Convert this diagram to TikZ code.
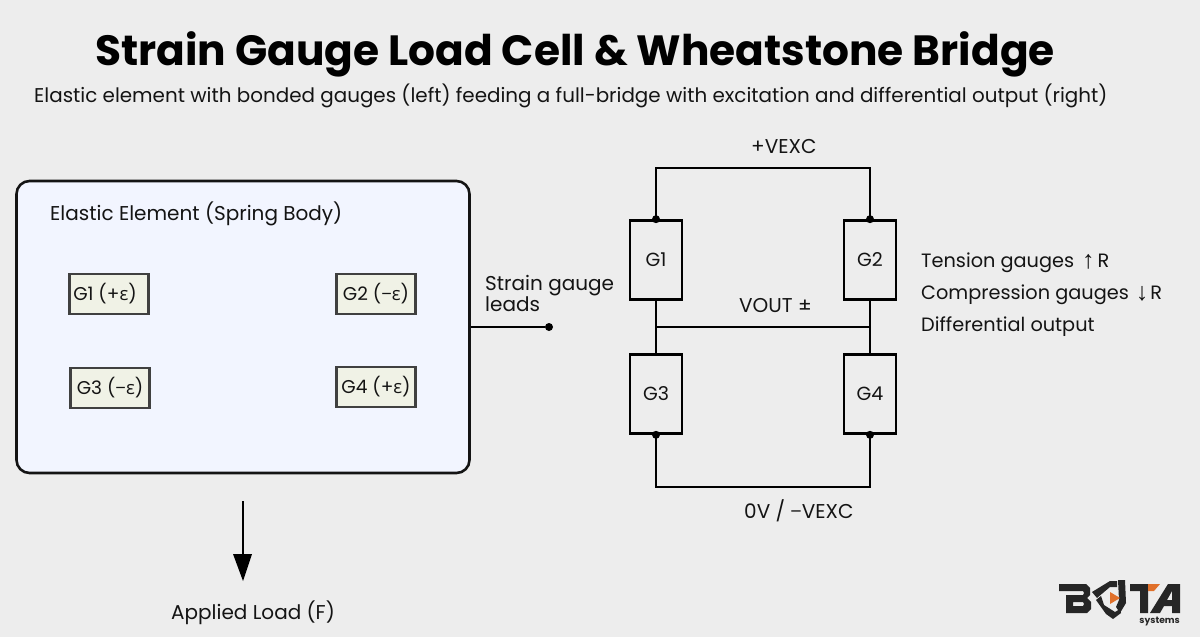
\documentclass[tikz,border=0pt]{standalone}
\usepackage{fontspec}
\setmainfont{Poppins}
\newfontfamily\lib{Liberation Sans}
\newfontfamily\opn{Open Sans}
\definecolor{bgc}{HTML}{EDEDED}
\definecolor{panel}{HTML}{F2F5FF}
\definecolor{gauge}{HTML}{F0F2E6}
\definecolor{ink}{HTML}{141414}
\definecolor{logoink}{HTML}{262626}
\definecolor{logoor}{HTML}{E0702A}
\newcommand{\eps}{{\opn ε}}
\newcommand{\mns}{{\opn −}}
\newcommand{\bigarrow}[1]{{\lib\fontsize{25}{21}\selectfont\raisebox{-1pt}{#1}}}
\tikzset{
  x=1pt,y=-1pt,
  txt/.style={font=\fontsize{20}{21}\selectfont,text=ink,inner sep=0pt,anchor=base west},
  notetxt/.style={font=\fontsize{19.3}{21}\selectfont,text=ink,inner sep=0pt,anchor=base west},
  gaugebox/.style={draw=black!75,line width=2.4pt,fill=gauge,minimum width=79pt,minimum height=40pt,inner sep=0pt,font=\fontsize{18.5}{20}\selectfont,text=ink},
  res/.style={draw=black,line width=2.6pt,minimum width=52pt,minimum height=79pt,inner sep=0pt,font=\fontsize{19}{20}\selectfont,text=ink},
  wire/.style={draw=black,line width=2.6pt},
  dotn/.style={circle,fill=black,inner sep=0pt,minimum size=8pt},
}
\begin{document}
\begin{tikzpicture}
\path[use as bounding box,fill=bgc] (0,0) rectangle (1200,637);
% title
\node[inner sep=0pt,anchor=base,font=\fontsize{42.3}{48}\selectfont\bfseries] (title) at (575,65) {Strain Gauge Load Cell \& Wheatstone Bridge};
\node[inner sep=0pt,anchor=base west,font=\fontsize{19.9}{23}\selectfont,text=ink] (sub) at (34,102) {Elastic element with bonded gauges (left) feeding a full-bridge with excitation and differential output (right)};
% panel
\node[draw=ink,line width=2.6pt,fill=panel,rounded corners=13pt,minimum width=453pt,minimum height=292pt,inner sep=0pt] (panel) at (243,327) {};
\node[txt] (ptitle) at (50,220) {Elastic Element (Spring Body)};
\node[gaugebox] (a1) at (109,294) {\hspace*{-4pt}G1 (+\eps)\hspace*{4pt}};
\node[gaugebox] (a2) at (376,294) {G2 (\mns\eps)};
\node[gaugebox] (a3) at (110,388) {G3 (\mns\eps)};
\node[gaugebox] (a4) at (376,387) {G4 (+\eps)};
% load
\coordinate (ls) at (243,501);
\draw[black,line width=2.6pt] (ls) -- (243,556);
\fill[black] (233,554) -- (252,554) -- (243,581) -- cycle;
\node[txt] (load) at (171,619) {Applied Load (F)};
% leads
\node[dotn] (ld) at (549,327) {};
\draw[wire] (panel.east |- ld) -- (ld);
\node[txt] (leads1) at (485,290) {Strain gauge};
\node[txt] (leads2) at (485,311) {leads};
% bridge
\node[res] (g1) at (656,260) {G1};
\node[res] (g2) at (870,260) {G2};
\node[res] (g3) at (656,394) {G3};
\node[res] (g4) at (870,394) {G4};
\foreach \n/\a in {t1/g1,t2/g2}{\node[dotn] (\n) at (\a.north) {};}
\foreach \n/\a in {b3/g3,b4/g4}{\node[dotn] (\n) at (\a.south) {};}
\draw[wire] (g1.north) -- (656,168) -- (870,168) -- (g2.north);
\draw[wire] (g3.south) -- (656,487) -- (870,487) -- (g4.south);
\draw[wire] (g1.south) -- (g3.north);
\draw[wire] (g2.south) -- (g4.north);
\draw[wire] (656,327) -- (870,327);
\node[txt] (vexc) at (751,153) {+VEXC};
\node[txt] (vout) at (739,312) {VOUT ±};
\node[txt] (gnd) at (744,518) {0V / \mns VEXC};
\node[notetxt] (n1) at (921,267) {Tension gauges\hspace{8pt}\bigarrow{↑}\hspace{3pt}R};
\node[notetxt] (n2) at (921,299) {Compression gauges\hspace{7pt}\bigarrow{↓}\hspace{2pt}R};
\node[notetxt] (n3) at (921,331) {Differential output};
% logo
\fill[logoink,even odd rule] (1059,584) -- (1086,584) -- (1090,588) -- (1090,595) -- (1087,598) -- (1091,602) -- (1091,609) -- (1087,613) -- (1066,613) -- (1066,595) -- (1083,595) -- (1084,593) -- (1083,591) -- (1059,591) -- cycle
  (1073,602) -- (1083,602) -- (1084,604) -- (1083,606) -- (1073,606) -- cycle;
\fill[logoink] (1092,592) -- (1110,581) -- (1117,581) -- (1117,587) -- (1110,587) -- (1097,598) -- cycle;
\fill[logoink] (1096,600) -- (1101,596) -- (1104,605) -- (1115,612) -- (1120,609) -- (1121,613) -- (1113,619) -- (1106,614) -- cycle;
\fill[logoink] (1118,580) -- (1125,580) -- (1126,603) -- (1120,613) -- (1116,607) -- (1119,600) -- cycle;
\fill[logoink] (1130,584) -- (1148,584) -- (1148,613) -- (1140,613) -- (1140,591) -- (1130,591) -- cycle;
\fill[logoink,even odd rule] (1150,613) -- (1168,584) -- (1180,584) -- (1180,613) -- (1172,613) -- (1172,606) -- (1164,606) -- (1160,613) -- cycle
  (1167,600) -- (1172,600) -- (1172,591) -- cycle;
\fill[logoor] (1110,592) -- (1120,598) -- (1110,604) -- cycle;
\fill[logoor] (1148,584) -- (1160,584) -- (1154,591) -- (1148,591) -- cycle;
\node[inner sep=0pt,anchor=base east,font=\fontsize{9.2}{10}\selectfont\bfseries,text=logoink] (sys) at (1180,623) {systems};
\end{tikzpicture}
\end{document}
